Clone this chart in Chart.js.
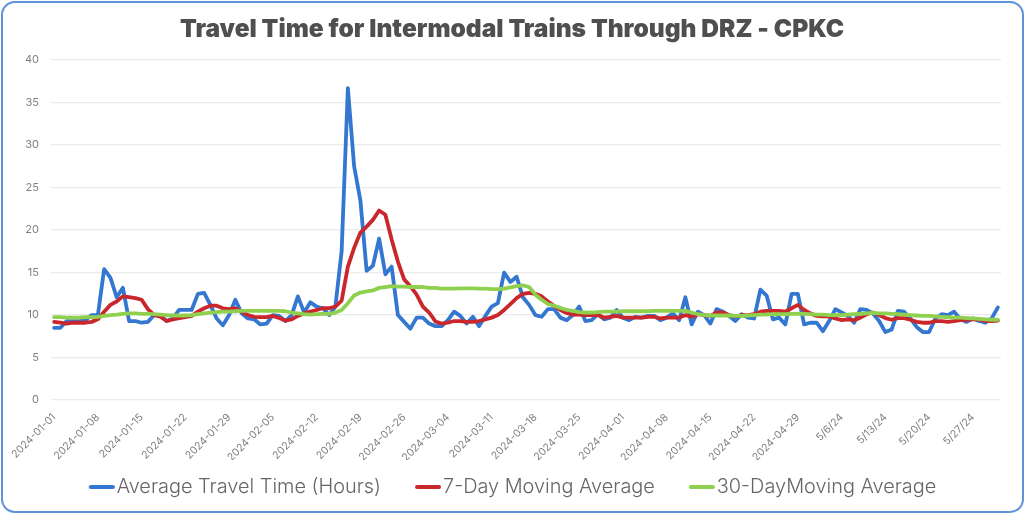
<!DOCTYPE html>
<html><head><meta charset="utf-8">
<script src="https://cdn.jsdelivr.net/npm/chart.js@4"></script>
<style>
html,body{margin:0;padding:0;background:#fff;width:1024px;height:513px;overflow:hidden}
#card{position:absolute;left:1px;top:1px;width:1019px;height:508px;border:2px solid #5f93da;border-radius:14px;box-sizing:content-box}
canvas{position:absolute;left:0;top:0}
</style></head><body>
<div id="card"></div>
<canvas id="c" width="1024" height="513" style="width:1024px;height:513px"></canvas>
<script>
const categories = [
"2024-01-01","2024-01-02","2024-01-03","2024-01-04","2024-01-05","2024-01-06","2024-01-07","2024-01-08","2024-01-09","2024-01-10","2024-01-11","2024-01-12","2024-01-13","2024-01-14","2024-01-15","2024-01-16","2024-01-17","2024-01-18","2024-01-19","2024-01-20","2024-01-21","2024-01-22","2024-01-23","2024-01-24","2024-01-25","2024-01-26","2024-01-27","2024-01-28","2024-01-29","2024-01-30","2024-01-31",
"2024-02-01","2024-02-02","2024-02-03","2024-02-04","2024-02-05","2024-02-06","2024-02-07","2024-02-08","2024-02-09","2024-02-10","2024-02-11","2024-02-12","2024-02-13","2024-02-14","2024-02-15","2024-02-16","2024-02-17","2024-02-18","2024-02-19","2024-02-20","2024-02-21","2024-02-22","2024-02-23","2024-02-24","2024-02-25","2024-02-26","2024-02-27","2024-02-28","2024-02-29",
"2024-03-01","2024-03-02","2024-03-03","2024-03-04","2024-03-05","2024-03-06","2024-03-07","2024-03-08","2024-03-09","2024-03-10","2024-03-11","2024-03-12","2024-03-13","2024-03-14","2024-03-15","2024-03-16","2024-03-17","2024-03-18","2024-03-19","2024-03-20","2024-03-21","2024-03-22","2024-03-23","2024-03-24","2024-03-25","2024-03-26","2024-03-27","2024-03-28","2024-03-29","2024-03-30","2024-03-31",
"2024-04-01","2024-04-02","2024-04-03","2024-04-04","2024-04-05","2024-04-06","2024-04-07","2024-04-08","2024-04-09","2024-04-10","2024-04-11","2024-04-12","2024-04-13","2024-04-14","2024-04-15","2024-04-16","2024-04-17","2024-04-18","2024-04-19","2024-04-20","2024-04-21","2024-04-22","2024-04-23","2024-04-24","2024-04-25","2024-04-26","2024-04-27","2024-04-28","2024-04-29","2024-04-30",
"5/1/24","5/2/24","5/3/24","5/4/24","5/5/24","5/6/24","5/7/24","5/8/24","5/9/24","5/10/24","5/11/24","5/12/24","5/13/24","5/14/24","5/15/24","5/16/24","5/17/24","5/18/24","5/19/24","5/20/24","5/21/24","5/22/24","5/23/24","5/24/24","5/25/24","5/26/24","5/27/24","5/28/24","5/29/24","5/30/24","5/31/24"];
const travelTime = [
8.5,8.5,9.3,9.3,9.3,9.4,10.0,10.0,15.4,14.4,12.1,13.2,9.3,9.3,9.1,9.2,10.0,10.0,9.3,9.6,10.6,10.6,10.6,12.5,12.6,11.2,9.6,8.8,10.0,11.8,
10.2,9.6,9.5,8.9,9.0,10.0,9.9,9.3,10.0,12.2,10.3,11.5,11.0,10.8,10.0,11.0,17.5,36.7,27.5,23.5,15.2,15.8,19.0,14.8,15.7,10.0,9.2,8.4,9.7,9.7,
9.0,8.7,8.7,9.4,10.4,9.9,9.0,9.8,8.7,9.9,11.0,11.4,15.0,13.9,14.5,12.1,11.2,10.0,9.8,10.7,10.7,9.7,9.4,10.0,11.0,9.3,9.4,10.1,9.5,9.7,
10.6,9.7,9.4,9.8,9.7,9.9,9.9,9.4,9.7,10.2,9.4,12.1,8.9,10.4,10.0,9.0,10.7,10.4,9.9,9.3,10.1,9.7,9.6,13.0,12.3,9.5,9.7,8.9,12.5,12.5,
8.9,9.1,9.1,8.1,9.3,10.7,10.3,9.9,9.1,10.7,10.6,10.2,9.3,8.0,8.3,10.5,10.4,9.6,8.6,8.0,8.0,9.6,10.1,10.0,10.4,9.5,9.2,9.6,9.3,9.1,9.6,10.9];
const sevenDayAvg = [
9.2,9.1,9.0,9.1,9.1,9.1,9.2,9.5,10.4,11.2,11.6,12.2,12.1,12.0,11.8,10.7,10.0,9.8,9.3,9.5,9.65,9.75,9.9,10.4,10.8,11.1,11.1,10.8,10.7,10.8,
10.4,10.0,9.8,9.75,9.75,9.9,9.65,9.35,9.5,9.9,10.2,10.4,10.6,10.8,10.8,11.0,11.7,15.7,17.9,19.7,20.4,21.2,22.3,21.8,18.9,16.3,14.2,13.4,12.4,11.0,
10.3,9.25,9.0,9.1,9.3,9.3,9.2,9.2,9.3,9.5,9.7,10.0,10.6,11.3,12.0,12.5,12.6,12.5,12.2,11.6,11.1,10.6,10.25,10.05,10.05,10.0,10.0,10.0,9.7,9.8,
9.9,9.7,9.7,9.7,9.7,9.8,9.8,9.6,9.7,9.7,9.7,10.0,9.8,10.1,10.0,9.9,10.3,10.3,10.0,9.85,10.0,10.0,10.1,10.4,10.5,10.5,10.5,10.4,10.8,11.2,
10.6,10.2,9.9,9.85,9.85,9.6,9.4,9.5,9.4,9.7,10.1,10.3,10.0,9.65,9.45,9.65,9.65,9.45,9.2,9.1,9.1,9.3,9.3,9.2,9.3,9.4,9.45,9.5,9.5,9.3,9.3,9.35];
const thirtyDayAvg = [
9.75,9.75,9.7,9.7,9.7,9.75,9.75,9.8,9.9,10.0,10.05,10.15,10.2,10.2,10.15,10.15,10.1,10.05,10.0,9.95,9.95,9.95,10.0,10.1,10.2,10.3,10.35,10.4,10.4,10.45,
10.5,10.5,10.5,10.5,10.5,10.5,10.5,10.45,10.3,10.2,10.1,10.05,10.1,10.15,10.15,10.3,10.6,11.4,12.3,12.65,12.8,12.9,13.2,13.3,13.4,13.35,13.35,13.3,13.3,13.3,
13.2,13.2,13.1,13.1,13.1,13.15,13.15,13.15,13.1,13.1,13.05,13.05,13.1,13.25,13.4,13.5,13.3,12.4,11.8,11.3,11.1,10.85,10.6,10.5,10.35,10.3,10.3,10.35,10.4,10.4,
10.4,10.45,10.45,10.45,10.45,10.45,10.5,10.5,10.5,10.5,10.5,10.5,10.3,10.1,10.0,9.95,9.95,9.95,9.95,9.9,9.9,9.95,10.0,10.05,10.05,10.1,10.1,10.1,10.15,10.15,
10.15,10.1,10.05,10.05,10.0,10.0,10.0,10.05,10.1,10.15,10.2,10.25,10.2,10.2,10.15,10.1,10.05,10.0,9.95,9.9,9.9,9.85,9.8,9.75,9.7,9.7,9.65,9.6,9.55,9.5,9.45,9.45];
const titleText = "Travel Time for Intermodal Trains Through DRZ - CPKC";
const seriesNames = ["Average Travel Time (Hours)","7-Day Moving Average","30-DayMoving Average"];
const yTicks = [0,5,10,15,20,25,30,35,40];

function swatch(color){
 const k=document.createElement('canvas');k.width=51;k.height=4;
 const g=k.getContext('2d');g.fillStyle=color;g.beginPath();g.roundRect(25,0,26,4,2);g.fill();
 return k;
}
const line=(label,data,color)=>({label,data,borderColor:color,backgroundColor:color,borderWidth:3.8,pointRadius:0,pointStyle:swatch(color),tension:0,borderJoinStyle:'round',borderCapStyle:'round',order:-seriesNames.indexOf(label)});
const nudgeLegend={id:'nudgeLegend',afterLayout(chart){chart.legend.left-=8;chart.legend.right-=8;}};
new Chart(document.getElementById('c'),{
 type:'line',
 data:{labels:categories,datasets:[line(seriesNames[0],travelTime,'#3477d0'),line(seriesNames[1],sevenDayAvg,'#c9272c'),line(seriesNames[2],thirtyDayAvg,'#8fd14f')]},
 plugins:[nudgeLegend],
 options:{
  responsive:false,animation:false,devicePixelRatio:1,
  layout:{padding:{left:23,right:23,top:15,bottom:6}},
  plugins:{
   title:{display:true,text:titleText,color:'#4f4f4f',font:{family:'Inter',size:24.5,weight:'900'},padding:{top:0,bottom:15.6}},
   legend:{position:'bottom',labels:{color:'#666666',font:{family:'Inter',size:19.9,weight:'300'},usePointStyle:true,pointStyleWidth:35,boxHeight:4,padding:17,sort:(a,b)=>a.datasetIndex-b.datasetIndex}},
   tooltip:{enabled:false}
  },
  scales:{
   x:{offset:true,grid:{display:false},border:{display:false},
      afterFit(s){s.height=60;},
      ticks:{autoSkip:false,minRotation:45,maxRotation:45,color:'#808080',font:{family:'Inter',size:10.5},padding:3,
        callback(v,i){return i%7===0?this.getLabelForValue(v):'';}}},
   y:{min:0,max:40,
      afterFit(s){s.width=28;},
      afterBuildTicks(s){s.ticks=yTicks.map(value=>({value}));},
      grid:{color:'#ebebeb',lineWidth:1.3,drawTicks:false},border:{display:false},
      ticks:{color:'#808080',font:{family:'Inter',size:11},padding:12}}
  }
 }
});
</script></body></html>
